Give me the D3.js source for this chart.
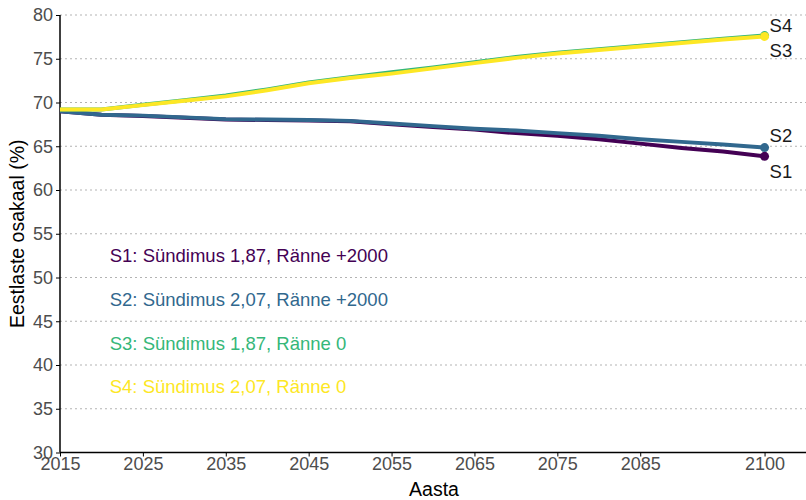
<!DOCTYPE html>
<html>
<head>
<meta charset="utf-8">
<script src="https://cdn.jsdelivr.net/npm/d3@7"></script>
<style>
  body { margin: 0; background: #fff; }
  svg { display: block; font-family: "Liberation Sans", Arial, sans-serif; }
  .grid line { stroke: #b3b3b3; stroke-dasharray: 2,3; stroke-width: 1; }
  .axis text { fill: #4d4d4d; font-size: 18px; }
  .axis path, .axis line { stroke: #000; }
</style>
</head>
<body>
<div class="container"></div>
<script>
"use strict";

// data
var years = [2015, 2020, 2025, 2030, 2035, 2040, 2045, 2050, 2055, 2060, 2065, 2070, 2075, 2080, 2085, 2090, 2095, 2100];
var s1 = [69.0, 68.6, 68.45, 68.25, 68.05, 68.0, 67.95, 67.85, 67.5, 67.2, 66.9, 66.5, 66.2, 65.8, 65.3, 64.8, 64.4, 63.85];
var s2 = [69.0, 68.6, 68.5, 68.3, 68.1, 68.05, 68.0, 67.9, 67.6, 67.3, 67.0, 66.8, 66.5, 66.2, 65.8, 65.5, 65.2, 64.85];
var s3 = [69.2, 69.2, 69.75, 70.25, 70.8, 71.5, 72.3, 72.9, 73.45, 74.0, 74.6, 75.2, 75.7, 76.1, 76.5, 76.9, 77.3, 77.65];
var s4 = [69.2, 69.2, 69.7, 70.2, 70.7, 71.4, 72.2, 72.8, 73.3, 73.9, 74.5, 75.1, 75.6, 76.0, 76.4, 76.8, 77.2, 77.55];
var names = ["S1", "S2", "S3", "S4"];
var colors = ["#440154", "#31688e", "#35b779", "#fde725"];
var legendText = ["S1: Sündimus 1,87, Ränne +2000", "S2: Sündimus 2,07, Ränne +2000", "S3: Sündimus 1,87, Ränne 0", "S4: Sündimus 2,07, Ränne 0"];
var legendY = [52.5, 47.5, 42.5, 37.5];
var legendX = 2021;
var xTicks = [2015, 2025, 2035, 2045, 2055, 2065, 2075, 2085, 2100];
var yTicks = [30, 35, 40, 45, 50, 55, 60, 65, 70, 75, 80];

var W = 806, H = 500;
var mLeft = 60, mRight = 806, mTop = 15, mBottom = 452.5;

var svg = d3.select(".container").append("svg").attr("width", W).attr("height", H);

var x = d3.scaleLinear().domain([2015, 2105]).range([mLeft, mRight]);
var y = d3.scaleLinear().domain([30, 80]).range([mBottom, mTop]);

//Gridlines
svg.append("g").attr("class", "grid").selectAll("line").data(yTicks.slice(1)).enter().append("line")
  .attr("x1", mLeft).attr("x2", mRight)
  .attr("y1", function (d) { return y(d); }).attr("y2", function (d) { return y(d); });

//Axes
var xAxis = d3.axisBottom(x).tickValues(xTicks).tickFormat(d3.format("d")).tickSize(4).tickPadding(1);
var yAxis = d3.axisLeft(y).tickValues(yTicks).tickSize(4).tickPadding(3);
svg.append("g").attr("class", "axis").attr("transform", "translate(0," + mBottom + ")").call(xAxis)
  .call(function (g) { g.select(".domain").attr("d", "M" + mLeft + ",0H" + mRight).attr("stroke-width", 1.5); });
svg.append("g").attr("class", "axis").attr("transform", "translate(" + mLeft + ",0)").call(yAxis)
  .call(function (g) { g.select(".domain").attr("d", "M0," + mBottom + "V" + mTop).attr("stroke-width", 1.5); });

//Axis titles
svg.append("text").attr("x", 434).attr("y", 496).attr("text-anchor", "middle")
  .style("font-size", "19.5px").attr("fill", "#000").text("Aasta");
svg.append("text").attr("transform", "rotate(-90)").attr("x", -(mTop + mBottom) / 2).attr("y", 24)
  .attr("text-anchor", "middle").style("font-size", "19.5px").attr("fill", "#000").text("Eestlaste osakaal (%)");

//Lines
var series = [s1, s2, s3, s4];
var line = d3.line().x(function (d, i) { return x(years[i]); }).y(function (d) { return y(d); });
series.forEach(function (s, k) {
  svg.append("path").datum(s).attr("d", line).attr("fill", "none")
    .attr("stroke", colors[k]).attr("stroke-width", 4).attr("stroke-linejoin", "round");
});
series.forEach(function (s, k) {
  svg.append("circle").attr("cx", x(years[years.length - 1])).attr("cy", y(s[s.length - 1]))
    .attr("r", 4.5).attr("fill", colors[k]);
});

//End labels
var labelDy = [15, -12, 15, -11];
series.forEach(function (s, k) {
  svg.append("text").attr("x", x(years[years.length - 1]) + 5).attr("y", y(s[s.length - 1]) + labelDy[k])
    .attr("dy", "0.35em").style("font-size", "18.5px").attr("fill", "#1a1a1a").text(names[k]);
});

//Legend text
legendText.forEach(function (t, k) {
  svg.append("text").attr("x", x(legendX)).attr("y", y(legendY[k])).attr("dy", "0.35em")
    .style("font-size", "18.5px").attr("fill", colors[k]).text(t);
});
</script>
</body>
</html>
